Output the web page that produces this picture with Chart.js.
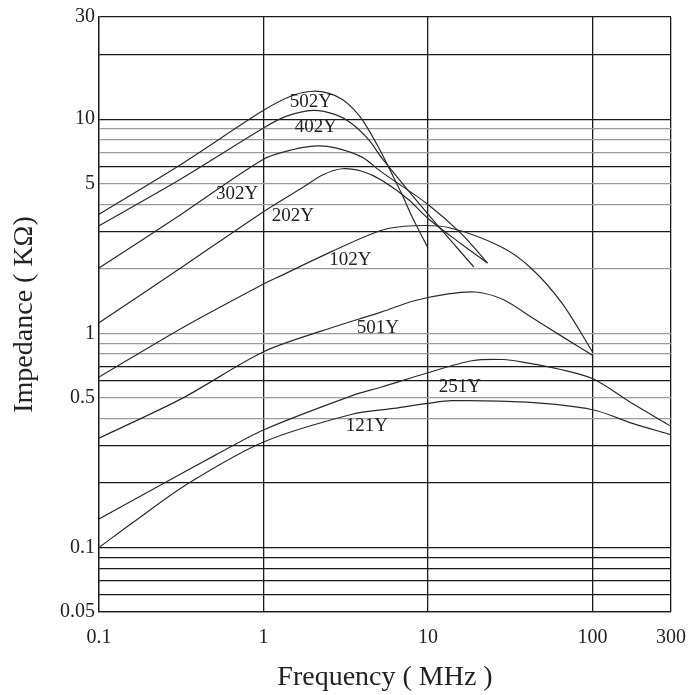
<!DOCTYPE html>
<html>
<head>
<meta charset="utf-8">
<script src="https://cdn.jsdelivr.net/npm/chart.js@4/dist/chart.umd.min.js"></script>
<style>
  html, body { margin: 0; padding: 0; background: #fff; }
  #wrap { width: 696px; height: 695px; position: relative; }
</style>
</head>
<body>
<div id="wrap"><canvas id="chart"></canvas></div>
<script>
// impedance vs frequency (MHz, kOhm)
let names = ['502Y', '402Y', '302Y', '202Y', '102Y', '501Y', '251Y', '121Y'];

let freq502 = [0.1, 0.32, 1, 1.5, 2, 2.5, 3, 3.5, 4, 5, 6, 7, 8, 10];
let imp502  = [3.6, 6.2, 11, 12.9, 13.5, 13.2, 12.4, 11.2, 9.9, 7.4, 5.6, 4.4, 3.5, 2.5];

let freq402 = [0.1, 0.32, 1, 1.37, 2, 2.74, 3.46, 4.37, 5.23, 10, 19];
let imp402  = [3.18, 5.3, 9.1, 10.3, 11.0, 10.5, 9.5, 8.0, 6.6, 3.6, 2.04];

let freq302 = [0.1, 0.32, 1, 1.5, 2.1, 2.74, 3.97, 5.23, 10, 16.1, 23];
let imp302  = [2.02, 3.62, 6.5, 7.2, 7.5, 7.35, 6.65, 5.66, 4.0, 2.9, 2.13];

let freq202 = [0.1, 0.32, 1, 1.74, 2.3, 3.01, 4, 5.23, 7.6, 10, 16.1, 23];
let imp202  = [1.12, 2.04, 3.70, 4.81, 5.5, 5.87, 5.7, 5.19, 4.22, 3.44, 2.6, 2.13];

let freq102 = [0.1, 0.32, 1, 1.26, 2.63, 5.23, 8.25, 13.3, 27.4, 42.2, 64.9, 100];
let imp102  = [0.625, 1.06, 1.70, 1.85, 2.42, 3.03, 3.18, 3.12, 2.55, 2.02, 1.39, 0.82];

let freq501 = [0.1, 0.32, 1, 2.29, 5.23, 8.25, 13.3, 19.4, 28.6, 44, 67.8, 100];
let imp501  = [0.324, 0.497, 0.82, 1.03, 1.26, 1.42, 1.53, 1.56, 1.44, 1.17, 0.95, 0.79];

let freq251 = [0.1, 0.24, 0.51, 1, 3.46, 5.23, 10, 18.5, 28.6, 39.8, 63, 100, 175, 300];
let imp251  = [0.136, 0.197, 0.27, 0.354, 0.512, 0.562, 0.655, 0.745, 0.755, 0.728, 0.68, 0.615, 0.47, 0.368];

let freq121 = [0.1, 0.163, 0.352, 1, 3.46, 6.0, 10, 13.9, 39.8, 100, 175, 300];
let imp121  = [0.1, 0.132, 0.20, 0.311, 0.419, 0.445, 0.471, 0.485, 0.477, 0.44, 0.38, 0.336];

// where each curve name sits (MHz, kOhm)
let labelFreq = [1.94, 2.08, 0.69, 1.51, 3.37, 4.95, 15.6, 4.25];
let labelImp  = [12.0, 9.2, 4.48, 3.52, 2.19, 1.06, 0.562, 0.368];

// axis ticks
let xTicks = [0.1, 1, 10, 100, 300];
let xTickLabels = ['0.1', '1', '10', '100', '300'];
let yGrid = [0.05, 0.06, 0.07, 0.08, 0.09, 0.1, 0.2, 0.3, 0.4, 0.5, 0.6, 0.7, 0.8, 0.9,
             1, 2, 3, 4, 5, 6, 7, 8, 9, 10, 20, 30];
let yTickLabels = { 0.05: '0.05', 0.1: '0.1', 0.5: '0.5', 1: '1', 5: '5', 10: '10', 30: '30' };
let yLight = [0.4, 0.5, 0.8, 0.9, 1, 2, 4, 5, 7, 8, 9];

let series = [
  [freq502, imp502], [freq402, imp402], [freq302, imp302], [freq202, imp202],
  [freq102, imp102], [freq501, imp501], [freq251, imp251], [freq121, imp121]
];

function toPoints(f, z){
  let pts = [];
  for(let i = 0; i < f.length; i++){
    pts.push({x: f[i], y: z[i]});
  }
  return pts;
}

const serif = '"Liberation Serif", "DejaVu Serif", serif';

// curve names drawn in data space
const curveLabels = {
  id: 'curveLabels',
  afterDatasetsDraw(chart){
    const ctx = chart.ctx;
    const xs = chart.scales.x, ys = chart.scales.y;
    ctx.save();
    ctx.font = '19px ' + serif;
    ctx.fillStyle = '#222';
    ctx.textAlign = 'center';
    ctx.textBaseline = 'middle';
    for(let i = 0; i < names.length; i++){
      ctx.fillText(names[i], xs.getPixelForValue(labelFreq[i]), ys.getPixelForValue(labelImp[i]));
    }
    ctx.restore();
  }
};

new Chart(document.getElementById('chart'), {
  type: 'line',
  data: {
    datasets: series.map((s, i) => ({
      label: names[i],
      data: toPoints(s[0], s[1]),
      borderColor: '#2a2a2a',
      borderWidth: 1.2,
      pointRadius: 0,
      fill: false,
      tension: 0.3
    }))
  },
  options: {
    responsive: true,
    maintainAspectRatio: false,
    animation: false,
    layout: { padding: { top: 17, right: 25, left: 0, bottom: 0 } },
    plugins: {
      legend: { display: false },
      tooltip: { enabled: false }
    },
    scales: {
      x: {
        type: 'logarithmic',
        min: 0.1,
        max: 300,
        afterBuildTicks(scale){
          scale.ticks = xTicks.map(v => ({value: v}));
        },
        afterFit(scale){
          scale.height = 83;
          scale.paddingLeft = 0;
          scale.paddingRight = 0;
        },
        ticks: {
          autoSkip: false,
          maxRotation: 0,
          padding: 14,
          color: '#222',
          font: { family: serif, size: 20 },
          callback: (v) => {
            let i = xTicks.indexOf(v);
            return i >= 0 ? xTickLabels[i] : '';
          }
        },
        grid: {
          drawTicks: false,
          color: '#1a1a1a',
          lineWidth: 1.3
        },
        border: { color: '#1a1a1a', width: 1.3 },
        title: {
          display: true,
          text: 'Frequency ( MHz )',
          color: '#222',
          font: { family: serif, size: 28 },
          padding: { top: 0, bottom: 1 }
        }
      },
      y: {
        type: 'logarithmic',
        min: 0.05,
        max: 30,
        afterBuildTicks(scale){
          scale.ticks = yGrid.map(v => ({value: v}));
        },
        afterFit(scale){
          scale.width = 99;
          scale.paddingTop = 0;
          scale.paddingBottom = 0;
        },
        ticks: {
          autoSkip: false,
          padding: 4,
          color: '#222',
          font: { family: serif, size: 20 },
          callback: (v) => yTickLabels[v] || ''
        },
        grid: {
          drawTicks: false,
          color: (c) => yLight.includes(c.tick && c.tick.value) ? '#9a9a9a' : '#1a1a1a',
          lineWidth: 1.3
        },
        border: { color: '#1a1a1a', width: 1.3 },
        title: {
          display: true,
          text: 'Impedance ( KΩ)',
          color: '#222',
          font: { family: serif, size: 28 },
          padding: { top: 8, bottom: 0 }
        }
      }
    }
  },
  plugins: [curveLabels]
});
</script>
</body>
</html>
